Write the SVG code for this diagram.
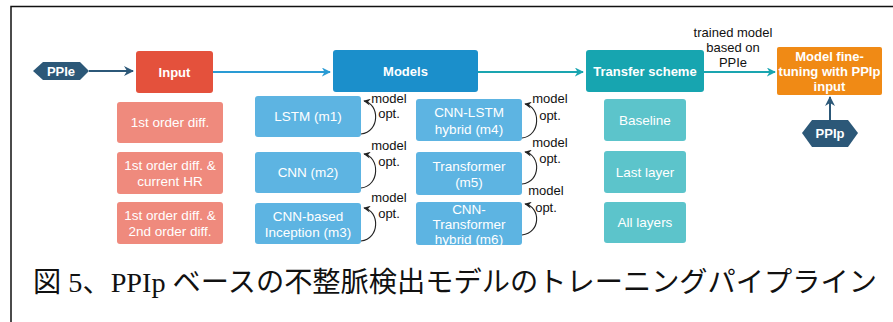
<svg xmlns="http://www.w3.org/2000/svg" width="893" height="322" viewBox="0 0 893 322">
<defs>
<style>
.t{font-family:"Liberation Sans",Arial,sans-serif;fill:#fff;text-anchor:middle;dominant-baseline:central}
.b{font-weight:bold;font-size:13px}
.s{font-size:13.5px}
.lbl{font-family:"Liberation Sans",Arial,sans-serif;font-size:13px;fill:#111}
.loop{fill:none;stroke:#222;stroke-width:1.1;marker-end:url(#ak)}
</style>
<marker id="ab" viewBox="0 0 10 10" refX="9" refY="5" markerWidth="9" markerHeight="9" markerUnits="userSpaceOnUse" orient="auto"><path d="M0,0 L10,5 L0,10 L3,5 z" fill="#2a9bd4"/></marker>
<marker id="at" viewBox="0 0 10 10" refX="9" refY="5" markerWidth="9" markerHeight="9" markerUnits="userSpaceOnUse" orient="auto"><path d="M0,0 L10,5 L0,10 L3,5 z" fill="#1aa5b0"/></marker>
<marker id="ad" viewBox="0 0 10 10" refX="9" refY="5" markerWidth="10" markerHeight="10" markerUnits="userSpaceOnUse" orient="auto"><path d="M0,0 L10,5 L0,10 L3,5 z" fill="#2c5878"/></marker>
<marker id="ak" viewBox="0 0 10 10" refX="9" refY="5" markerWidth="7" markerHeight="7" markerUnits="userSpaceOnUse" orient="auto"><path d="M0,0 L10,5 L0,10 L3,5 z" fill="#222"/></marker>
</defs>
<rect width="893" height="322" fill="#fff"/>
<path d="M11,322 V6.5 H893" fill="none" stroke="#111" stroke-width="1.5"/>

<g id="connectors">
<line x1="89" y1="71" x2="133" y2="71" stroke="#2c5878" stroke-width="2" marker-end="url(#ad)"/>
<line x1="213" y1="72" x2="330" y2="72" stroke="#2a9bd4" stroke-width="1.8" marker-end="url(#ab)"/>
<line x1="478" y1="72" x2="583" y2="72" stroke="#1aa5b0" stroke-width="1.8" marker-end="url(#at)"/>
<line x1="704" y1="72" x2="775" y2="72" stroke="#1aa5b0" stroke-width="1.8" marker-end="url(#at)"/>
<line x1="830" y1="120" x2="830" y2="97" stroke="#2c5878" stroke-width="2" marker-end="url(#ad)"/>
<path class="loop" d="M361,134 C380,132 380,104 364,101"/>
<path class="loop" d="M361,188 C380,186 380,157 364,154"/>
<path class="loop" d="M361,241 C380,239 380,211 364,208"/>
<path class="loop" d="M522,138 C541,136 541,107 525,104"/>
<path class="loop" d="M522,184 C541,182 541,155 525,152"/>
<path class="loop" d="M522,235 C541,233 541,207 525,204"/>
</g>

<g id="labels">
<text class="lbl" x="389" y="103" text-anchor="middle">model</text>
<text class="lbl" x="389" y="118" text-anchor="middle">opt.</text>
<text class="lbl" x="389" y="150" text-anchor="middle">model</text>
<text class="lbl" x="389" y="166" text-anchor="middle">opt.</text>
<text class="lbl" x="389" y="202" text-anchor="middle">model</text>
<text class="lbl" x="389" y="218" text-anchor="middle">opt.</text>
<text class="lbl" x="550" y="103" text-anchor="middle">model</text>
<text class="lbl" x="550" y="120" text-anchor="middle">opt.</text>
<text class="lbl" x="550" y="147" text-anchor="middle">model</text>
<text class="lbl" x="550" y="163" text-anchor="middle">opt.</text>
<text class="lbl" x="546" y="195" text-anchor="middle">model</text>
<text class="lbl" x="546" y="212" text-anchor="middle">opt.</text>
<text class="lbl" x="733" y="37" text-anchor="middle">trained model</text>
<text class="lbl" x="733" y="52" text-anchor="middle">based on</text>
<text class="lbl" x="733" y="67" text-anchor="middle">PPIe</text>
</g>

<g id="ppie">
<polygon points="33,71 43,62 80,62 89,71 80,80 43,80" fill="#2c5878"/>
<text class="t b" x="61" y="71">PPIe</text>
</g>
<g id="input">
<rect x="136" y="51" width="77" height="42" rx="3" fill="#e4513c"/>
<text class="t b" x="174.5" y="72">Input</text>
</g>
<g id="in1">
<rect x="117" y="102" width="106" height="41" rx="3" fill="#ef8a7d"/>
<text class="t s" x="170" y="122.5">1st order diff.</text>
</g>
<g id="in2">
<rect x="117" y="152" width="106" height="42" rx="3" fill="#ef8a7d"/>
<text class="t s" x="170" y="165">1st order diff. &amp;</text>
<text class="t s" x="170" y="181">current HR</text>
</g>
<g id="in3">
<rect x="117" y="202" width="106" height="42" rx="3" fill="#ef8a7d"/>
<text class="t s" x="170" y="215">1st order diff. &amp;</text>
<text class="t s" x="170" y="231">2nd order diff.</text>
</g>

<g id="models">
<rect x="333" y="50" width="145" height="42" rx="3" fill="#1b8fcb"/>
<text class="t b" x="405.5" y="71">Models</text>
</g>
<g id="m1">
<rect x="255" y="96" width="106" height="41" rx="3" fill="#5db4e2"/>
<text class="t s" x="308" y="116.5">LSTM (m1)</text>
</g>
<g id="m2">
<rect x="255" y="152" width="106" height="41" rx="3" fill="#5db4e2"/>
<text class="t s" x="308" y="172.5">CNN (m2)</text>
</g>
<g id="m3">
<rect x="255" y="203" width="106" height="41" rx="3" fill="#5db4e2"/>
<text class="t s" x="308" y="216">CNN-based</text>
<text class="t s" x="308" y="232">Inception (m3)</text>
</g>
<g id="m4">
<rect x="416" y="99" width="106" height="42" rx="3" fill="#5db4e2"/>
<text class="t s" x="469" y="112">CNN-LSTM</text>
<text class="t s" x="469" y="129">hybrid (m4)</text>
</g>
<g id="m5">
<rect x="416" y="152" width="106" height="43" rx="3" fill="#5db4e2"/>
<text class="t s" x="469" y="166">Transformer</text>
<text class="t s" x="469" y="182">(m5)</text>
</g>
<g id="m6">
<rect x="416" y="202" width="106" height="43" rx="3" fill="#5db4e2"/>
<text class="t s" x="469" y="209">CNN-</text>
<text class="t s" x="469" y="224">Transformer</text>
<text class="t s" x="469" y="239">hybrid (m6)</text>
</g>

<g id="transfer">
<rect x="586" y="50" width="118" height="42" rx="3" fill="#17a5b0"/>
<text class="t b" x="645" y="71">Transfer scheme</text>
</g>
<g id="baseline">
<rect x="604" y="99" width="82" height="42" rx="3" fill="#5cc4cb"/>
<text class="t s" x="645" y="120">Baseline</text>
</g>
<g id="lastlayer">
<rect x="604" y="151" width="82" height="42" rx="3" fill="#5cc4cb"/>
<text class="t s" x="645" y="172">Last layer</text>
</g>
<g id="alllayers">
<rect x="604" y="202" width="82" height="41" rx="3" fill="#5cc4cb"/>
<text class="t s" x="645" y="222.5">All layers</text>
</g>

<g id="finetune">
<rect x="777" y="47" width="105" height="48" rx="2" fill="#f08a15"/>
<text class="t b" x="829.5" y="56">Model fine-</text>
<text class="t b" x="829.5" y="71">tuning with PPIp</text>
<text class="t b" x="829.5" y="86">input</text>
</g>
<g id="ppip">
<polygon points="802,133 812,120 848,120 858,133 848,147 812,147" fill="#2c5878"/>
<text class="t b" x="830" y="133.5">PPIp</text>
</g>

<text x="33" y="292" font-family="'Liberation Serif','Noto Sans CJK JP',serif" font-size="28" fill="#111" textLength="844" lengthAdjust="spacingAndGlyphs">図 5、PPIp ベースの不整脈検出モデルのトレーニングパイプライン</text>
</svg>
